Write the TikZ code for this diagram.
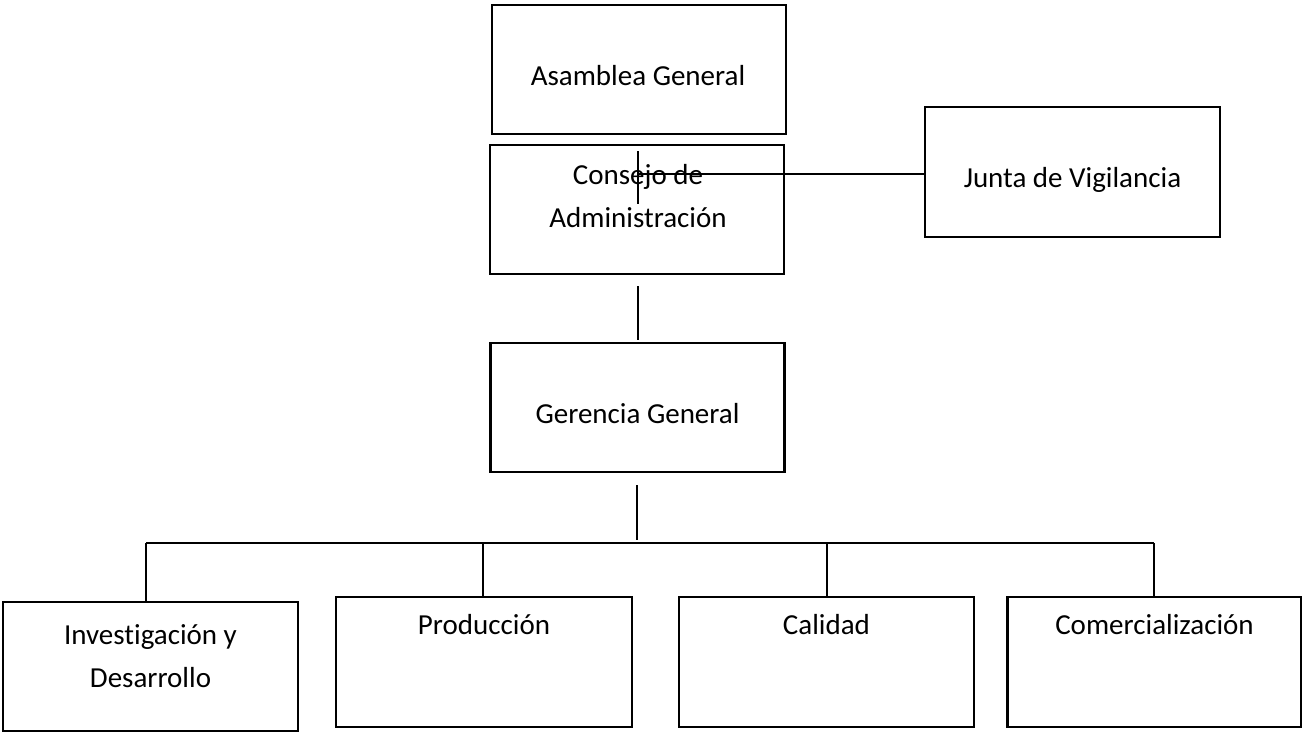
\documentclass[tikz,border=0pt]{standalone}
\usepackage{fontspec}
\setmainfont{Carlito}[Ligatures=NoCommon]
\usetikzlibrary{calc}
\begin{document}
\begin{tikzpicture}[x=1pt,y=-1pt,
  unit/.style={draw, line width=2.2pt, minimum width=294pt, minimum height=129pt, inner sep=0pt},
  lbl/.style={font=\fontsize{29}{43}\selectfont, align=center, anchor=base, inner sep=0pt},
  link/.style={line width=1.6pt}]
\useasboundingbox (0,0) rectangle (1302,732);

% organisational units
\node[unit] (asm) at (639,69.5) {};
\node[unit] (con) at (637,209.5) {};
\node[unit, minimum width=295pt, minimum height=130pt] (jun) at (1072.5,172) {};
\node[unit] (ger) at (637.5,407.5) {};
\node[unit, minimum width=295pt] (inv) at (150.5,666.5) {};
\node[unit, minimum width=296pt, minimum height=130pt] (pro) at (484,662) {};
\node[unit, minimum width=295pt, minimum height=130pt] (cal) at (826.5,662) {};
\node[unit, minimum width=294pt, minimum height=130pt] (com) at (1154.5,662) {};

% unit titles (base anchor of a two-line title sits on its last line)
\node[lbl] (asmT) at ($(asm.north)+(-1,82)$) {Asamblea General};
\node[lbl] (conT) at ($(con.north)+(1,84)$) {Consejo de\\Administración};
\node[lbl] (junT) at ($(jun.north)+(0,82)$) {Junta de Vigilancia};
\node[lbl] (gerT) at ($(ger.north)+(0,82)$) {Gerencia General};
\node[lbl] (invT) at ($(inv.north)+(0,87)$) {Investigación y\\Desarrollo};
\node[lbl] (proT) at ($(pro.north)+(0,39)$) {Producción};
\node[lbl] (calT) at ($(cal.north)+(0,39)$) {Calidad};
\node[lbl] (comT) at ($(com.north)+(0,39)$) {Comercialización};

% connector end points
\coordinate (v1a) at (638,151);
\coordinate (v1b) at (638,204);
\coordinate (h1) at (638,174);
\coordinate (v2a) at (638,286);
\coordinate (v2b) at (638,340);
\coordinate (v3a) at (637,485);
\coordinate (v3b) at (637,540);
\coordinate (busL) at (146,543);
\coordinate (busR) at (1154,543);
\coordinate (b2) at (483,543);
\coordinate (b3) at (827,543);

% connectors
\draw[link] (v1a) -- (v1b);
\draw[link] (h1) -- (h1 -| jun.west);
\draw[link] (v2a) -- (v2b);
\draw[link] (v3a) -- (v3b);
\draw[link] (busL) -- (busR);
\draw[link] (busL) -- (busL |- inv.north);
\draw[link] (b2) -- (b2 |- pro.north);
\draw[link] (b3) -- (b3 |- cal.north);
\draw[link] (busR) -- (busR |- com.north);
\end{tikzpicture}
\end{document}
